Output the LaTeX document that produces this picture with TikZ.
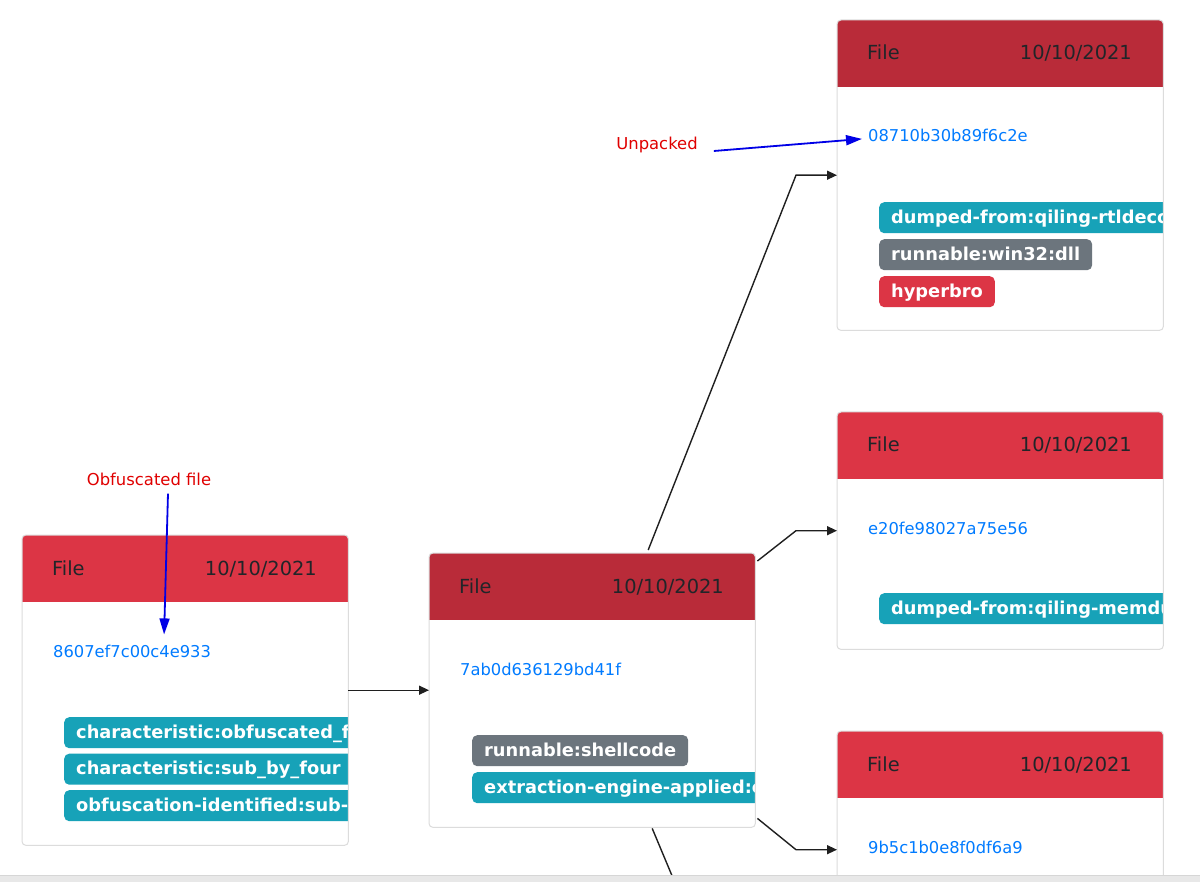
\documentclass[tikz,border=0pt]{standalone}
\usepackage{fontspec}
\setmainfont{DejaVu Sans}
\usetikzlibrary{arrows.meta}
\definecolor{hdrred}{HTML}{DC3545}
\definecolor{hdrdark}{HTML}{B92B39}
\definecolor{tagteal}{HTML}{17A2B8}
\definecolor{taggray}{HTML}{6C757D}
\definecolor{tagred}{HTML}{DC3545}
\definecolor{hashblue}{HTML}{007BFF}
\definecolor{txtdark}{HTML}{212529}
\definecolor{cardline}{HTML}{DCDCDC}
\definecolor{annred}{HTML}{E00000}
\definecolor{annblue}{HTML}{0000E6}
\tikzset{
 cardbox/.style={rectangle, inner sep=0pt, minimum width=326pt, anchor=north west},
 cardborder/.style={draw=cardline, line width=1pt, rounded corners=4pt},
 hdrtext/.style={inner sep=0pt, text=txtdark, font={\fontsize{19.4}{23}\selectfont}},
 hashtext/.style={inner sep=0pt, text=hashblue, font={\fontsize{16.3}{19}\selectfont}},
 tag/.style={anchor=north west, rounded corners=5pt, inner xsep=12pt, inner ysep=0pt,
   minimum height=31pt, text height=14pt, text depth=3pt, text=white,
   font={\fontsize{17.8}{21}\selectfont\bfseries}},
 note/.style={inner sep=0pt, text=annred, font={\fontsize{16.4}{19}\selectfont}},
 conn/.style={draw=black!88, line width=1.4pt, -{Triangle[length=10pt,width=9pt]}},
 noteline/.style={draw=annblue, line width=1.8pt, -{Triangle[length=16pt,width=10pt]}},
}
\newcommand\filecard[6]{%
 \node[cardbox, minimum height=#4pt, fill=white] (#1) at (#2,#3) {};
 \begin{scope}
  \clip[rounded corners=4pt] (#1.north west) rectangle (#1.south east);
  \fill[#5] (#1.north west) rectangle ([yshift=-67pt]#1.north east);
 \end{scope}
 \node[hdrtext, anchor=base west] (#1-t) at ([xshift=30pt,yshift=-40pt]#1.north west) {File};
 \node[hdrtext, anchor=base east] (#1-d) at ([xshift=295pt,yshift=-40pt]#1.north west) {10/10/2021};
 \node[hashtext, anchor=base west] (#1-h) at ([xshift=31pt,yshift=-122pt]#1.north west) {#6};
}
\newcommand\cardclip[1]{\clip[rounded corners=4pt] (#1.north west) rectangle (#1.south east);}
\begin{document}
\begin{tikzpicture}[x=1pt,y=-1pt]
\useasboundingbox (0,0) rectangle (1200,882);
\clip (0,0) rectangle (1200,882);
\fill[white] (0,0) rectangle (1200,882);

% cards
\filecard{A}{22}{535}{310}{hdrred}{8607ef7c00c4e933}
\filecard{B}{429}{553}{274}{hdrdark}{7ab0d636129bd41f}
\filecard{C}{837}{20}{310}{hdrdark}{08710b30b89f6c2e}
\filecard{D}{837}{412}{237}{hdrred}{e20fe98027a75e56}
\filecard{E}{837}{731}{237}{hdrred}{9b5c1b0e8f0df6a9}

% badges
\begin{scope}
 \cardclip{A}
 \node[tag, fill=tagteal] (A-b1) at ([xshift=42pt,yshift=-182pt]A.north west) {characteristic:obfuscated\_f\hspace*{30pt}};
 \node[tag, fill=tagteal] (A-b2) at ([xshift=42pt,yshift=-218.5pt]A.north west) {characteristic:sub\_by\_four\hspace*{10pt}};
 \node[tag, fill=tagteal] (A-b3) at ([xshift=42pt,yshift=-255pt]A.north west) {obfuscation-identified:sub-4\hspace*{30pt}};
\end{scope}
\begin{scope}
 \cardclip{B}
 \node[tag, fill=taggray] (B-b1) at ([xshift=43pt,yshift=-182pt]B.north west) {runnable:shellcode};
 \node[tag, fill=tagteal] (B-b2) at ([xshift=43pt,yshift=-219pt]B.north west) {extraction-engine-applied:c\hspace*{30pt}};
\end{scope}
\begin{scope}
 \cardclip{C}
 \node[tag, fill=tagteal] (C-b1) at ([xshift=42pt,yshift=-182pt]C.north west) {dumped-from:qiling-rtldeco\hspace*{30pt}};
 \node[tag, fill=taggray] (C-b2) at ([xshift=42pt,yshift=-219pt]C.north west) {runnable:win32:dll};
 \node[tag, fill=tagred] (C-b3) at ([xshift=42pt,yshift=-256pt]C.north west) {hyperbro};
\end{scope}
\begin{scope}
 \cardclip{D}
 \node[tag, fill=tagteal] (D-b1) at ([xshift=42pt,yshift=-181pt]D.north west) {dumped-from:qiling-memdu\hspace*{30pt}};
\end{scope}

% card borders
\foreach \c in {A,B,C,D,E}{
 \draw[cardborder] (\c.north west) rectangle (\c.south east);
}

% connectors
\coordinate (offB) at (678,890);
\draw[conn] (A.east) -- (B.west);
\draw[conn] ([xshift=56pt,yshift=3pt]B.north) -- ([xshift=-41pt]C.west) -- (C.west);
\draw[conn] ([xshift=2pt,yshift=-8pt]B.north east) -- ([xshift=-41pt]D.west) -- (D.west);
\draw[conn] ([xshift=2pt,yshift=9pt]B.south east) -- ([xshift=-41pt]E.west) -- (E.west);
\draw[draw=black!88, line width=1.4pt] ([xshift=60pt,yshift=-1pt]B.south) -- (offB);

% annotations
\node[note] (obf) at (149,479) {Obfuscated file};
\node[note] (unp) at (657,145) {Unpacked};
\draw[noteline] ([xshift=19pt,yshift=-8pt]obf.south) -- ([xshift=32pt,yshift=10pt]A-h.north);
\draw[noteline] ([xshift=16pt,yshift=-6pt]unp.east) -- ([xshift=-6pt,yshift=-3pt]C-h.west);

% bottom bar
\fill[black!9] (0,876) rectangle (1200,882);
\draw[black!16, line width=1pt] (0,875.5) -- (1200,875.5);
\end{tikzpicture}
\end{document}
